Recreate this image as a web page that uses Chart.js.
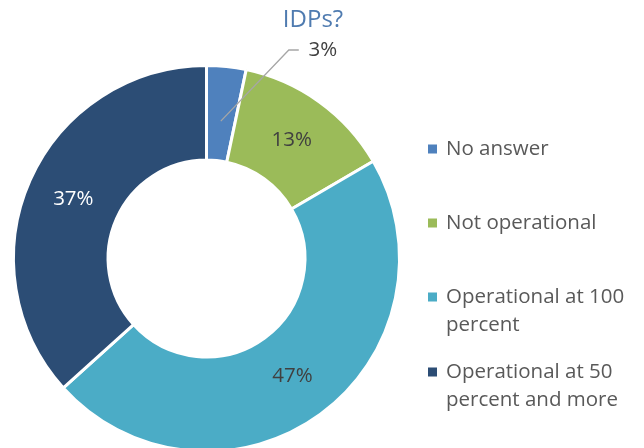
<!DOCTYPE html>
<html>
<head>
<meta charset="utf-8">
<script src="https://cdn.jsdelivr.net/npm/chart.js@4.4.1/dist/chart.umd.min.js"></script>
<style>
  html, body { margin: 0; padding: 0; background: #fff; overflow: hidden; }
  #wrap { width: 644px; height: 470px; }
</style>
</head>
<body>
<div id="wrap"><canvas id="chart-idps" width="644" height="470"></canvas></div>
<script>
// Chart data
const categories = ['No answer', 'Not operational', 'Operational at 100 percent', 'Operational at 50 percent and more'];
const legendLines = [['No answer'], ['Not operational'], ['Operational at 100', 'percent'], ['Operational at 50', 'percent and more']];
const shares = [3.3, 13.3, 46.7, 36.7];
const sliceColors = ['#4f81bd', '#9bbb59', '#4bacc6', '#2c4d75'];
const labelColors = ['#404040', '#404040', '#404040', '#ffffff'];
const chartTitle = 'IDPs?';

const FONT = '"Open Sans", "Noto Sans", sans-serif';

// Percent labels, with a leader line for the thin first slice
const sliceLabels = {
    id: 'sliceLabels',
    afterDatasetsDraw(chart) {
        const ctx = chart.ctx;
        const arcs = chart.getDatasetMeta(0).data;
        ctx.save();
        ctx.font = '20.5px ' + FONT;
        ctx.textAlign = 'center';
        ctx.textBaseline = 'middle';
        arcs.forEach((arc, i) => {
            const text = Math.round(shares[i]) + '%';
            if (i === 0) {
                const mid = (arc.startAngle + arc.endAngle) / 2;
                const r = arc.innerRadius + (arc.outerRadius - arc.innerRadius) * 0.42;
                const x0 = arc.x + Math.cos(mid) * r;
                const y0 = arc.y + Math.sin(mid) * r;
                const x1 = x0 + 68, y1 = 50;
                ctx.strokeStyle = '#a6a6a6';
                ctx.lineWidth = 1.3;
                ctx.beginPath();
                ctx.moveTo(x0, y0);
                ctx.lineTo(x1, y1);
                ctx.lineTo(x1 + 10, y1);
                ctx.stroke();
                ctx.fillStyle = labelColors[i];
                ctx.fillText(text, x1 + 34, y1);
            } else {
                const p = arc.tooltipPosition();
                ctx.fillStyle = labelColors[i];
                ctx.fillText(text, p.x, p.y);
            }
        });
        ctx.restore();
    }
};

// Title and right-hand legend
const sideLegend = {
    id: 'sideLegend',
    afterDraw(chart) {
        const ctx = chart.ctx;
        ctx.save();
        ctx.font = '24px ' + FONT;
        ctx.fillStyle = '#4f7bb0';
        ctx.textAlign = 'center';
        ctx.textBaseline = 'middle';
        ctx.fillText(chartTitle, 313, 20);

        const rowY = [149, 223, 297, 372];
        ctx.font = '20.5px ' + FONT;
        ctx.textAlign = 'left';
        legendLines.forEach((lines, i) => {
            ctx.fillStyle = sliceColors[i];
            ctx.fillRect(428, rowY[i] - 4.5, 9, 9);
            ctx.fillStyle = '#595959';
            lines.forEach((line, j) => {
                ctx.fillText(line, 446, rowY[i] + j * 28);
            });
        });
        ctx.restore();
    }
};

new Chart(document.getElementById('chart-idps'), {
    type: 'doughnut',
    data: {
        labels: categories,
        datasets: [{
            data: shares,
            backgroundColor: sliceColors,
            borderColor: '#ffffff',
            borderWidth: 3
        }]
    },
    options: {
        responsive: false,
        animation: false,
        cutout: '51%',
        layout: { padding: { left: 12, right: 243, top: 64, bottom: 17 } },
        plugins: {
            legend: { display: false },
            tooltip: { enabled: false }
        }
    },
    plugins: [sliceLabels, sideLegend]
});
</script>
</body>
</html>
